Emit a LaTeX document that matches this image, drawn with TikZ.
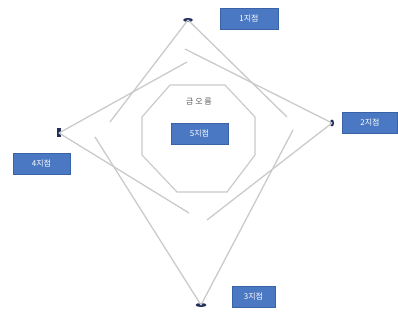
\documentclass[tikz,border=0pt]{standalone}
\usepackage{fontspec}
\newfontfamily\krfont{Noto Sans CJK KR}
\usetikzlibrary{shapes.geometric}
\definecolor{boxblue}{HTML}{4A78C2}
\definecolor{boxedge}{HTML}{3A62A6}
\definecolor{pin}{HTML}{1F2F5A}
\definecolor{ray}{HTML}{CACACA}
\tikzset{
  site/.style={draw=boxedge, fill=boxblue, line width=0.6pt, text=white,
    font=\krfont\fontsize{8}{9}\selectfont, inner sep=0pt,
    minimum width=#1, minimum height=21pt},
  site/.default=57pt,
  pinmark/.style={fill=pin, draw=none, inner sep=0pt},
  rayline/.style={draw=ray, line width=1.3pt},
  octo/.style={draw=ray, line width=1.2pt}
}
\begin{document}
\begin{tikzpicture}[x=1pt, y=-1pt]
  \useasboundingbox (0,0) rectangle (398,320);

  % corner pins
  \node[pinmark, ellipse, minimum width=10pt, minimum height=4pt] (T) at (188,20) {};
  \node[pinmark, ellipse, minimum width=4pt, minimum height=7pt] (R) at (332,123) {};
  \node[pinmark, ellipse, minimum width=11pt, minimum height=4pt] (B) at (201,305) {};
  \node[pinmark, rectangle, minimum width=3.5pt, minimum height=9pt] (L) at (59,133) {};

  % free ends of the rays
  \coordinate (t1) at (110,122);
  \coordinate (t2) at (287,117);
  \coordinate (r1) at (185,49);
  \coordinate (r2) at (207,220);
  \coordinate (b1) at (293,130);
  \coordinate (b2) at (95,137);
  \coordinate (l1) at (187,62);
  \coordinate (l2) at (189,213);

  \draw[rayline] (T.center) -- (t1);
  \draw[rayline] (T.center) -- (t2);
  \draw[rayline] (R.center) -- (r1);
  \draw[rayline] (R.center) -- (r2);
  \draw[rayline] (B.center) -- (b1);
  \draw[rayline] (B.center) -- (b2);
  \draw[rayline] (L.center) -- (l1);
  \draw[rayline] (L.center) -- (l2);

  % central octagon
  \draw[octo] (170,85) -- (225,85) -- (255,117) -- (255,155) -- (227,192)
    -- (177,192) -- (142,155) -- (142,117) -- cycle;
  \node[text=black!65, font=\krfont\fontsize{8}{9}\selectfont] (title) at (199,102) {금 오 름};

  % site labels
  \node[site] (s5) at (199.5,133.5) {5지점};
  \node[site=58pt] (s1) at (249,19) {1지점};
  \node[site=55pt] (s2) at (370,123) {2지점};
  \node[site=43pt] (s3) at (253.5,297) {3지점};
  \node[site] (s4) at (41.5,163.5) {4지점};
\end{tikzpicture}
\end{document}
